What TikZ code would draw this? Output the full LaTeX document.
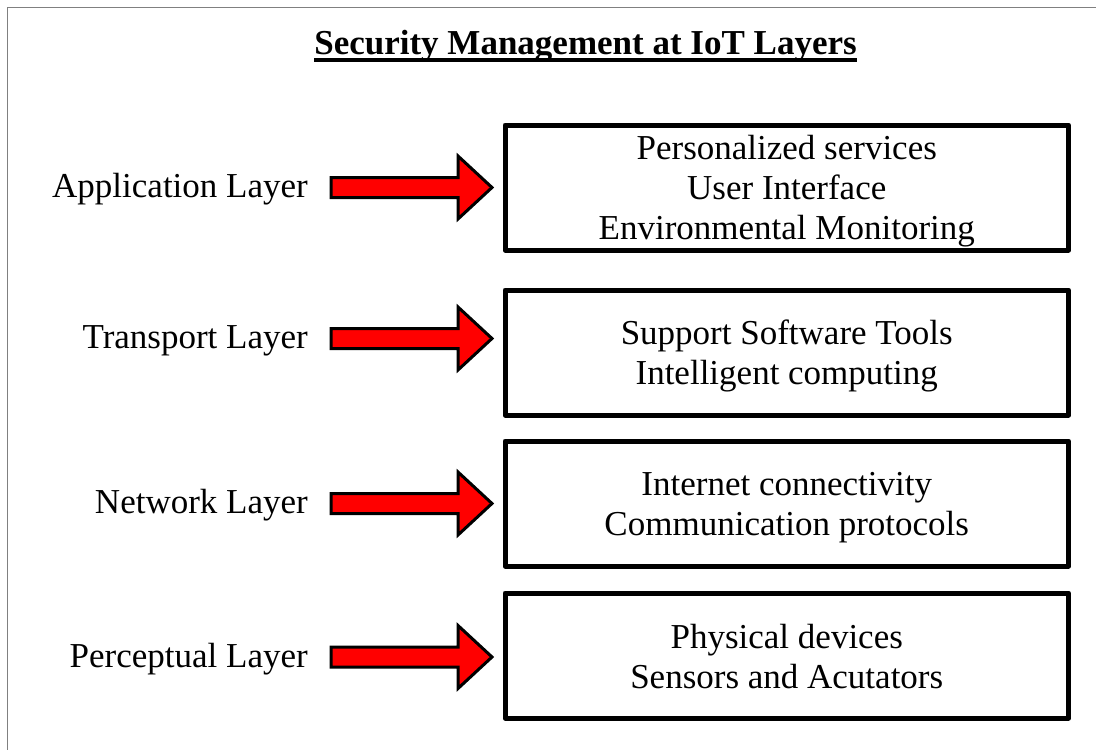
\documentclass[tikz,border=0pt]{standalone}
\usepackage{fontspec}
\setmainfont{Liberation Serif}
\begin{document}
\begin{tikzpicture}[x=1pt,y=-1pt,
  layerlabel/.style={anchor=base east, inner sep=0pt, font=\fontsize{35}{40}\selectfont},
  layerbox/.style={draw, line width=5pt, line join=round, minimum width=563.5pt, minimum height=125pt, inner sep=0pt},
  boxtext/.style={align=center, inner sep=0pt, font=\fontsize{35}{40}\selectfont},
  redarrow/.style={draw, fill=red, line width=3pt, line join=miter},
  frameline/.style={draw=gray, line width=1.5pt}
]
\useasboundingbox (0,0) rectangle (1096,750);
\draw[frameline] (7.5,750) -- (7.5,7.5) -- (1096,7.5);

\node[inner sep=0pt, anchor=base, font=\bfseries\fontsize{35}{40}\selectfont] (title) at (585.5,54) {Security Management at IoT Layers};
\draw[line width=3.5pt] ([yshift=-6pt]title.base west) -- ([yshift=-6pt]title.base east);

\node[layerbox] (b1) at (786.75,187.5) {};
\node[layerbox] (b2) at (786.75,352.5) {};
\node[layerbox] (b3) at (786.75,503.5) {};
\node[layerbox] (b4) at (786.75,655.5) {};

\node[boxtext] (t1) at ([yshift=-3.5pt]b1.center) {Personalized services\\User Interface\\Environmental Monitoring};
\node[boxtext] (t2) at ([yshift=-3.5pt]b2.center) {Support Software Tools\\Intelligent computing};
\node[boxtext] (t3) at ([yshift=-4pt]b3.center) {Internet connectivity\\Communication protocols};
\node[boxtext] (t4) at ([yshift=-1pt]b4.center) {Physical devices\\Sensors and Acutators};

\node[layerlabel] (l1) at (308,197) {Application Layer};
\node[layerlabel] (l2) at (308,348.5) {Transport Layer};
\node[layerlabel] (l3) at (308,513) {Network Layer};
\node[layerlabel] (l4) at (308,667) {Perceptual Layer};

\coordinate (a1) at (331,187.5);
\coordinate (a2) at (331,338.5);
\coordinate (a3) at (331,503.5);
\coordinate (a4) at (331,657);
\foreach \a in {a1,a2,a3,a4}{
  \draw[redarrow] (\a) ++(0,-10) -- ++(127,0) -- ++(0,-21.5) -- ++(34,31.5) -- ++(-34,31.5) -- ++(0,-21.5) -- ++(-127,0) -- cycle;
}
\end{tikzpicture}
\end{document}
